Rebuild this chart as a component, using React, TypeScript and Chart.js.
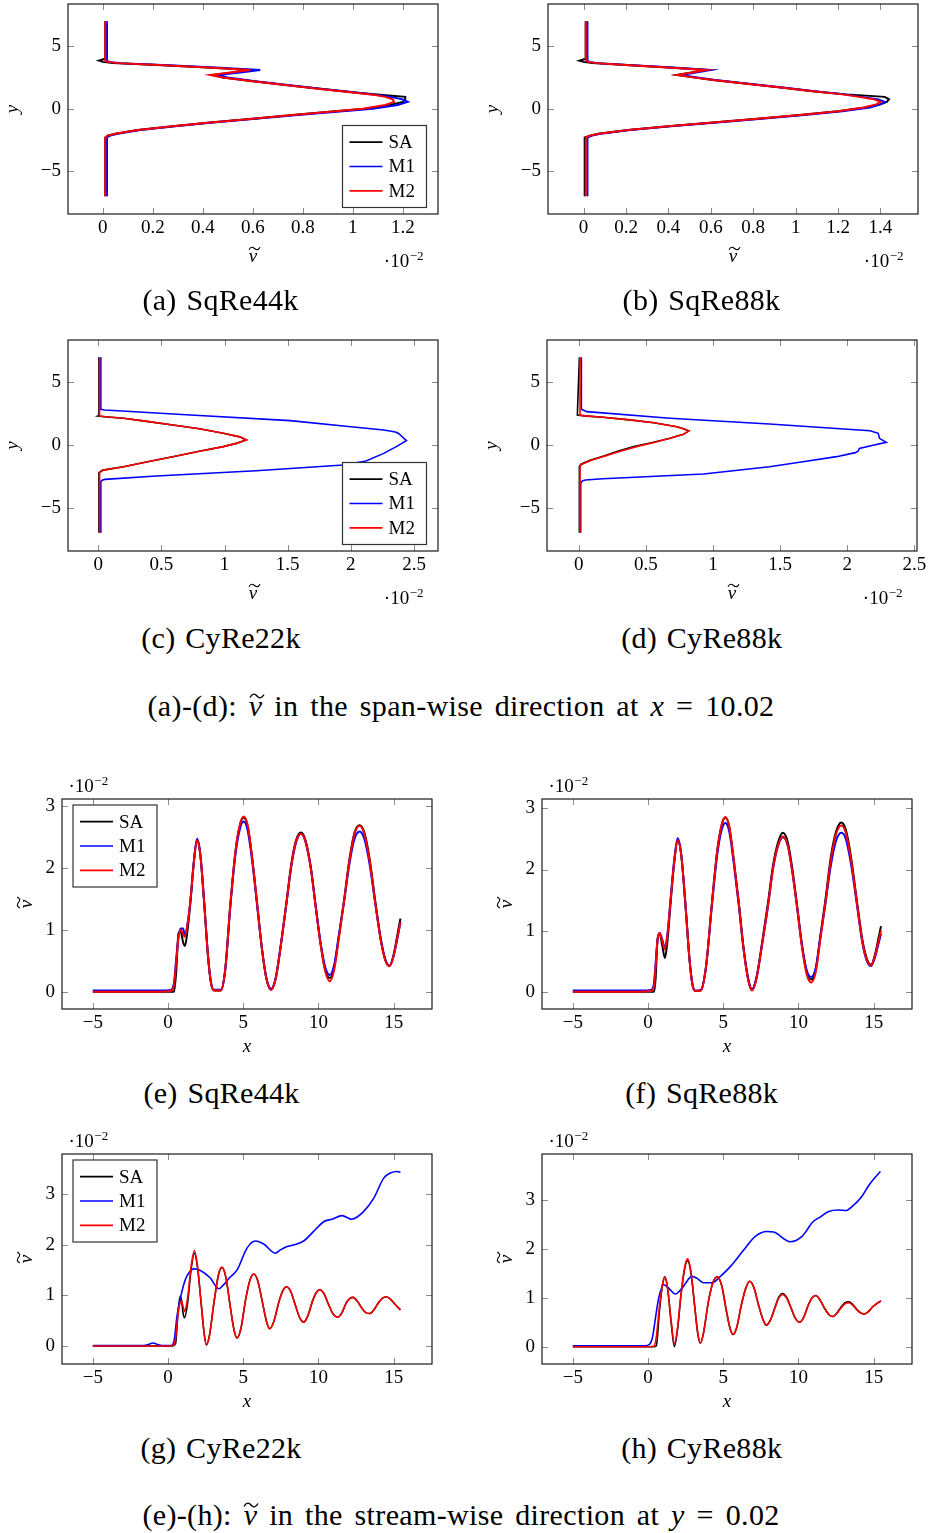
import React, { useEffect, useRef } from "react";
import { Chart, registerables } from "chart.js";

Chart.register(...registerables);

const FONT = '"Liberation Serif", "Times New Roman", serif';
const NU = "\u03BD";
const SERIES_LABELS = ["SA", "M1", "M2"];
const SERIES_COLORS = ["#000000", "#0000ff", "#ff0000"];

// ---------- tick values ----------
const TICKS_SPAN_Y = [-5, 0, 5];
const TICKS_A_X = [0, 0.2, 0.4, 0.6, 0.8, 1, 1.2];
const TICKS_B_X = [0, 0.2, 0.4, 0.6, 0.8, 1, 1.2, 1.4];
const TICKS_CD_X = [0, 0.5, 1, 1.5, 2, 2.5];
const TICKS_STREAM_X = [-5, 0, 5, 10, 15];
const TICKS_STREAM_Y = [0, 1, 2, 3];

// ---------- (a) SqRe44k, span-wise (y position, nu value x1e-2) ----------
const aPos = [-7, -2.3, -2.15, -2.0, -1.7, -1.4, -1.1, -0.8, -0.5, -0.2, 0, 0.3, 0.55, 0.75, 0.95, 1.1, 1.3, 1.6, 1.9, 2.2, 2.5, 2.7, 2.9, 3.1, 3.3, 3.5, 3.65, 3.75, 3.85, 4.0, 7];
const aM2 = [0.01, 0.01, 0.02, 0.05, 0.14, 0.28, 0.43, 0.6, 0.76, 0.93, 1.04, 1.13, 1.165, 1.16, 1.13, 1.09, 1.0, 0.86, 0.73, 0.6, 0.48, 0.43, 0.51, 0.59, 0.42, 0.22, 0.06, 0.02, 0.01, 0.01, 0.01];
const aM1 = [0.017, 0.017, 0.03, 0.06, 0.15, 0.29, 0.44, 0.61, 0.78, 0.96, 1.08, 1.18, 1.22, 1.2, 1.15, 1.1, 1.01, 0.87, 0.74, 0.61, 0.5, 0.46, 0.55, 0.63, 0.45, 0.24, 0.07, 0.025, 0.017, 0.017, 0.017];
const aSA = [0.01, 0.01, 0.02, 0.05, 0.14, 0.28, 0.43, 0.6, 0.76, 0.93, 1.05, 1.15, 1.2, 1.21, 1.21, 1.12, 1.01, 0.87, 0.73, 0.6, 0.48, 0.44, 0.52, 0.59, 0.42, 0.22, 0.04, 0.0, -0.015, 0.01, 0.01];

// ---------- (b) SqRe88k, span-wise ----------
const bPos = [-7, -2.3, -2.15, -2.0, -1.7, -1.4, -1.1, -0.8, -0.5, -0.2, 0.1, 0.35, 0.55, 0.75, 0.95, 1.15, 1.4, 1.7, 2.0, 2.3, 2.55, 2.7, 2.9, 3.1, 3.3, 3.5, 3.65, 3.75, 3.85, 4.0, 7];
const bM2 = [0.01, 0.01, 0.03, 0.07, 0.21, 0.4, 0.61, 0.82, 1.02, 1.2, 1.32, 1.38, 1.4, 1.37, 1.3, 1.22, 1.08, 0.93, 0.77, 0.61, 0.5, 0.44, 0.51, 0.58, 0.4, 0.2, 0.06, 0.02, 0.01, 0.01, 0.01];
const bM1 = [0.018, 0.018, 0.04, 0.08, 0.22, 0.41, 0.63, 0.84, 1.04, 1.22, 1.35, 1.4, 1.42, 1.39, 1.31, 1.23, 1.09, 0.94, 0.78, 0.62, 0.52, 0.46, 0.53, 0.6, 0.42, 0.21, 0.07, 0.025, 0.018, 0.018, 0.018];
const bSA = [0.005, 0.005, 0.03, 0.07, 0.21, 0.4, 0.61, 0.82, 1.02, 1.2, 1.33, 1.4, 1.43, 1.44, 1.42, 1.24, 1.08, 0.93, 0.77, 0.61, 0.5, 0.44, 0.51, 0.58, 0.4, 0.2, 0.04, 0.0, -0.02, 0.01, 0.01];

// ---------- (c) CyRe22k, span-wise ----------
const cPosSM = [-7, -2.2, -2.0, -1.73, -1.3, -0.93, -0.5, -0.13, 0.15, 0.4, 0.65, 0.93, 1.3, 1.6, 1.9, 2.13, 2.25, 2.31, 2.36, 7];
const cM2 = [0.01, 0.01, 0.04, 0.2, 0.41, 0.59, 0.8, 0.99, 1.1, 1.175, 1.12, 0.99, 0.8, 0.59, 0.37, 0.2, 0.06, 0.01, 0.01, 0.01];
const cSA = [0.005, 0.005, 0.035, 0.2, 0.41, 0.59, 0.8, 0.99, 1.1, 1.17, 1.12, 0.99, 0.8, 0.59, 0.37, 0.2, 0.05, -0.005, 0.005, 0.005];
const cPosM1 = [-7, -2.92, -2.8, -2.74, -2.47, -2.05, -1.6, -1.28, -0.67, -0.13, 0.35, 0.72, 0.9, 1.01, 1.1, 1.2, 1.5, 1.94, 2.39, 2.79, 2.85, 7];
const cM1 = [0.02, 0.02, 0.03, 0.05, 0.46, 1.25, 1.94, 2.12, 2.26, 2.36, 2.44, 2.4, 2.38, 2.36, 2.32, 2.26, 1.96, 1.52, 0.73, 0.05, 0.02, 0.02];

// ---------- (d) CyRe88k, span-wise ----------
const dPosSM = [-7, -1.73, -1.55, -1.41, -1.2, -0.93, -0.5, -0.13, 0.2, 0.53, 0.85, 1.12, 1.3, 1.46, 1.78, 2.0, 2.21, 2.32, 2.39, 7];
const dM2 = [0.01, 0.01, 0.02, 0.05, 0.1, 0.18, 0.31, 0.43, 0.56, 0.68, 0.78, 0.82, 0.78, 0.73, 0.56, 0.38, 0.18, 0.05, 0.01, 0.01];
const dSA = [0.005, 0.005, 0.015, 0.04, 0.09, 0.17, 0.29, 0.41, 0.55, 0.68, 0.78, 0.82, 0.78, 0.73, 0.56, 0.38, 0.18, 0.04, -0.01, 0.005];
const dPosM1 = [-7, -3.0, -2.85, -2.79, -2.69, -2.31, -1.73, -1.33, -0.93, -0.61, -0.5, -0.27, 0.0, 0.21, 0.53, 0.93, 1.14, 1.67, 2.13, 2.66, 2.85, 7];
const dM1 = [0.015, 0.015, 0.03, 0.05, 0.18, 0.93, 1.42, 1.67, 1.92, 2.06, 2.08, 2.09, 2.2, 2.29, 2.24, 2.23, 2.17, 1.42, 0.68, 0.06, 0.02, 0.02];

// ---------- (e) SqRe44k, stream-wise (x position, nu value x1e-2) ----------
const eX = [-5, -0.5, 0.2, 0.4, 0.55, 0.7, 0.85, 1.0, 1.12, 1.3, 1.5, 1.7, 1.93, 2.15, 2.4, 2.65, 2.85, 3.05, 3.5, 3.8, 4.15, 4.5, 4.8, 5.03, 5.3, 5.6, 5.92, 6.25, 6.55, 6.85, 7.15, 7.5, 7.87, 8.2, 8.5, 8.84, 9.15, 9.5, 9.8, 10.15, 10.45, 10.75, 11.05, 11.35, 11.7, 12.05, 12.4, 12.74, 13.05, 13.4, 13.78, 14.15, 14.45, 14.73, 15.0, 15.25, 15.45];
const eM2 = [0, 0, 0.01, 0.12, 0.5, 0.88, 1.0, 0.93, 0.89, 1.1, 1.5, 2.05, 2.45, 2.2, 1.45, 0.6, 0.15, 0.02, 0.02, 0.35, 1.43, 2.3, 2.72, 2.83, 2.68, 2.15, 1.43, 0.68, 0.2, 0.03, 0.2, 0.75, 1.43, 2.05, 2.42, 2.55, 2.42, 1.98, 1.4, 0.75, 0.33, 0.17, 0.36, 0.85, 1.45, 2.1, 2.55, 2.68, 2.55, 2.12, 1.43, 0.82, 0.5, 0.41, 0.58, 0.88, 1.12];
const eSA = [0, 0, 0, 0, 0.35, 0.95, 0.97, 0.8, 0.74, 1.0, 1.48, 2.05, 2.45, 2.2, 1.45, 0.6, 0.15, 0.02, 0.02, 0.35, 1.43, 2.3, 2.71, 2.81, 2.67, 2.15, 1.43, 0.68, 0.2, 0.03, 0.2, 0.75, 1.44, 2.07, 2.44, 2.57, 2.44, 2.0, 1.41, 0.76, 0.35, 0.22, 0.4, 0.88, 1.47, 2.12, 2.57, 2.69, 2.57, 2.15, 1.46, 0.84, 0.51, 0.42, 0.6, 0.92, 1.18];
const eM1 = [0.02, 0.02, 0.03, 0.15, 0.55, 0.9, 1.02, 1.02, 0.9, 1.1, 1.5, 2.07, 2.47, 2.22, 1.45, 0.6, 0.16, 0.03, 0.03, 0.35, 1.4, 2.25, 2.65, 2.75, 2.6, 2.1, 1.4, 0.68, 0.21, 0.05, 0.22, 0.76, 1.42, 2.03, 2.4, 2.55, 2.41, 1.98, 1.42, 0.78, 0.4, 0.27, 0.44, 0.9, 1.45, 2.05, 2.47, 2.59, 2.47, 2.06, 1.42, 0.84, 0.52, 0.42, 0.58, 0.86, 1.12];

// ---------- (f) SqRe88k, stream-wise ----------
const fX = [-5, -0.5, 0.2, 0.4, 0.5, 0.63, 0.77, 0.95, 1.12, 1.3, 1.5, 1.75, 1.97, 2.2, 2.48, 2.75, 2.95, 3.14, 3.5, 3.85, 4.25, 4.6, 4.9, 5.14, 5.4, 5.7, 6.03, 6.35, 6.65, 6.91, 7.2, 7.6, 8.0, 8.3, 8.65, 8.97, 9.3, 9.6, 9.9, 10.25, 10.55, 10.84, 11.15, 11.45, 11.79, 12.15, 12.5, 12.85, 13.15, 13.5, 13.89, 14.25, 14.55, 14.83, 15.1, 15.3, 15.49];
const fM2 = [0, 0, 0.01, 0.1, 0.4, 0.85, 0.96, 0.82, 0.69, 0.95, 1.5, 2.15, 2.48, 2.25, 1.45, 0.55, 0.12, 0.01, 0.02, 0.4, 1.45, 2.3, 2.74, 2.86, 2.7, 2.15, 1.45, 0.7, 0.2, 0.02, 0.2, 0.8, 1.45, 2.0, 2.4, 2.54, 2.38, 1.95, 1.4, 0.7, 0.28, 0.15, 0.32, 0.85, 1.45, 2.15, 2.58, 2.72, 2.6, 2.15, 1.45, 0.82, 0.52, 0.43, 0.6, 0.8, 1.0];
const fSA = [0, 0, 0, 0, 0.2, 0.85, 0.95, 0.75, 0.55, 0.85, 1.45, 2.13, 2.47, 2.25, 1.45, 0.55, 0.12, 0.01, 0.02, 0.4, 1.46, 2.31, 2.73, 2.85, 2.7, 2.16, 1.47, 0.72, 0.22, 0.03, 0.22, 0.83, 1.5, 2.05, 2.45, 2.6, 2.44, 2.0, 1.43, 0.74, 0.32, 0.2, 0.36, 0.9, 1.5, 2.2, 2.62, 2.77, 2.65, 2.2, 1.48, 0.85, 0.54, 0.44, 0.62, 0.85, 1.07];
const fM1 = [0.02, 0.02, 0.03, 0.15, 0.45, 0.85, 0.96, 0.85, 0.72, 0.97, 1.52, 2.18, 2.51, 2.27, 1.45, 0.55, 0.13, 0.02, 0.03, 0.4, 1.42, 2.24, 2.65, 2.76, 2.62, 2.1, 1.42, 0.7, 0.22, 0.04, 0.22, 0.8, 1.44, 2.0, 2.39, 2.53, 2.38, 1.95, 1.4, 0.73, 0.35, 0.24, 0.39, 0.88, 1.43, 2.06, 2.47, 2.6, 2.5, 2.08, 1.42, 0.8, 0.5, 0.42, 0.57, 0.76, 0.95];

// ---------- (g) CyRe22k, stream-wise ----------
const gX = [-5, -0.5, 0.3, 0.5, 0.65, 0.8, 0.9, 1.0, 1.1, 1.3, 1.55, 1.75, 1.95, 2.2, 2.4, 2.55, 2.75, 3.05, 3.35, 3.59, 3.85, 4.15, 4.4, 4.59, 4.85, 5.15, 5.45, 5.69, 5.95, 6.25, 6.55, 6.76, 7.05, 7.35, 7.65, 7.87, 8.15, 8.45, 8.75, 9.02, 9.3, 9.6, 9.85, 10.08, 10.35, 10.7, 11.0, 11.28, 11.55, 11.85, 12.1, 12.3, 12.6, 12.9, 13.15, 13.41, 13.7, 14.0, 14.25, 14.51, 14.8, 15.1, 15.45];
const gM2 = [0, 0, 0.01, 0.15, 0.6, 0.85, 0.88, 0.78, 0.68, 0.95, 1.6, 1.88, 1.6, 0.85, 0.25, 0.03, 0.2, 0.85, 1.4, 1.55, 1.35, 0.75, 0.3, 0.16, 0.35, 0.9, 1.3, 1.42, 1.3, 0.9, 0.48, 0.34, 0.5, 0.85, 1.1, 1.17, 1.08, 0.82, 0.56, 0.47, 0.6, 0.88, 1.05, 1.11, 1.04, 0.8, 0.62, 0.57, 0.65, 0.85, 0.94, 0.96, 0.88, 0.74, 0.66, 0.64, 0.72, 0.86, 0.94, 0.97, 0.92, 0.82, 0.71];
const gSA = [0, 0, 0, 0.05, 0.6, 0.98, 0.9, 0.65, 0.56, 0.85, 1.55, 1.83, 1.57, 0.85, 0.25, 0.02, 0.2, 0.85, 1.4, 1.55, 1.35, 0.75, 0.3, 0.16, 0.35, 0.9, 1.3, 1.42, 1.3, 0.9, 0.48, 0.34, 0.5, 0.85, 1.1, 1.17, 1.08, 0.82, 0.56, 0.47, 0.6, 0.88, 1.05, 1.11, 1.04, 0.8, 0.62, 0.57, 0.65, 0.85, 0.94, 0.96, 0.88, 0.74, 0.66, 0.64, 0.72, 0.86, 0.94, 0.97, 0.92, 0.82, 0.71];
const gXM1 = [-5, -1.6, -1.3, -1.0, -0.7, -0.4, 0.2, 0.4, 0.6, 0.82, 1.15, 1.4, 1.7, 2.15, 2.81, 3.37, 3.7, 4.1, 4.59, 5.25, 5.8, 6.36, 7.13, 7.5, 7.91, 8.35, 9.02, 9.68, 10.35, 10.9, 11.57, 12.23, 13.0, 13.67, 14.34, 14.78, 15.23, 15.45];
const gM1 = [0.01, 0.01, 0.03, 0.06, 0.03, 0.01, 0.01, 0.1, 0.6, 0.94, 1.31, 1.45, 1.52, 1.49, 1.34, 1.13, 1.21, 1.35, 1.5, 1.93, 2.07, 2.01, 1.83, 1.9, 1.96, 1.99, 2.07, 2.26, 2.45, 2.5, 2.57, 2.5, 2.65, 2.91, 3.31, 3.41, 3.44, 3.42];

// ---------- (h) CyRe88k, stream-wise ----------
const hX = [-5, -0.5, 0.38, 0.55, 0.75, 0.95, 1.12, 1.3, 1.55, 1.75, 1.95, 2.2, 2.45, 2.63, 2.85, 3.1, 3.3, 3.48, 3.7, 4.0, 4.3, 4.59, 4.9, 5.2, 5.45, 5.65, 5.9, 6.2, 6.5, 6.76, 7.05, 7.35, 7.65, 7.87, 8.15, 8.45, 8.7, 8.94, 9.2, 9.5, 9.8, 10.08, 10.35, 10.65, 10.9, 11.15, 11.45, 11.75, 12.05, 12.3, 12.55, 12.85, 13.1, 13.34, 13.6, 13.9, 14.15, 14.38, 14.65, 14.95, 15.2, 15.49];
const hM2 = [0, 0, 0.01, 0.2, 0.8, 1.25, 1.42, 1.2, 0.5, 0.05, 0.35, 1.1, 1.65, 1.8, 1.55, 0.85, 0.3, 0.07, 0.3, 0.9, 1.3, 1.43, 1.25, 0.75, 0.38, 0.25, 0.4, 0.85, 1.2, 1.34, 1.2, 0.85, 0.55, 0.44, 0.55, 0.8, 1.0, 1.07, 1.0, 0.8, 0.58, 0.5, 0.6, 0.85, 1.0, 1.05, 0.95, 0.78, 0.65, 0.62, 0.68, 0.8, 0.88, 0.9, 0.85, 0.75, 0.69, 0.67, 0.72, 0.82, 0.88, 0.94];
const hSA = [0, 0, 0, 0.02, 0.7, 1.25, 1.43, 1.2, 0.45, 0.0, 0.33, 1.08, 1.62, 1.76, 1.52, 0.83, 0.28, 0.07, 0.3, 0.9, 1.3, 1.43, 1.25, 0.75, 0.38, 0.25, 0.4, 0.85, 1.2, 1.34, 1.2, 0.85, 0.55, 0.44, 0.56, 0.82, 1.02, 1.09, 1.02, 0.8, 0.58, 0.5, 0.6, 0.85, 1.0, 1.05, 0.95, 0.78, 0.65, 0.62, 0.69, 0.82, 0.9, 0.92, 0.87, 0.76, 0.69, 0.67, 0.72, 0.82, 0.88, 0.94];
const hXM1 = [-5, -0.2, 0.1, 0.3, 0.5, 0.71, 1.04, 1.37, 1.82, 2.26, 2.93, 3.26, 3.7, 4.26, 4.81, 5.47, 6.36, 7.13, 7.91, 8.35, 9.46, 10.24, 10.57, 10.9, 11.46, 12.01, 12.67, 13.18, 13.56, 14.12, 14.78, 15.45];
const hM1 = [0.02, 0.02, 0.05, 0.2, 0.6, 1.0, 1.27, 1.2, 1.08, 1.2, 1.44, 1.4, 1.31, 1.31, 1.44, 1.64, 1.98, 2.26, 2.36, 2.35, 2.15, 2.26, 2.39, 2.54, 2.66, 2.77, 2.8, 2.79, 2.87, 3.04, 3.35, 3.59];

// ---------- captions ----------
const CAPTIONS = ["(a) SqRe44k", "(b) SqRe88k", "(c) CyRe22k", "(d) CyRe88k", "(e) SqRe44k", "(f) SqRe88k", "(g) CyRe22k", "(h) CyRe88k"];
const CAPTION_CX = [220.5, 701.5, 221, 701.7, 221.5, 701.7, 221, 701.7];
const CAPTION_CY = [300, 300, 638, 638, 1093, 1093, 1448, 1448];

// ---------- panel layout ----------
const PANELS: any[] = [
  { id: "a", left: 68, top: 4, w: 370, h: 210, xMin: -0.139, xMax: 1.341, yMin: -8.42, yMax: 8.38, xTicks: TICKS_A_X, yTicks: TICKS_SPAN_Y, vertical: true, legend: "se", lw: 2, series: [[aPos, aSA], [aPos, aM1], [aPos, aM2]] },
  { id: "b", left: 548, top: 4, w: 370, h: 210, xMin: -0.168, xMax: 1.577, yMin: -8.42, yMax: 8.38, xTicks: TICKS_B_X, yTicks: TICKS_SPAN_Y, vertical: true, legend: null, lw: 2, series: [[bPos, bSA], [bPos, bM1], [bPos, bM2]] },
  { id: "c", left: 68, top: 340, w: 370, h: 211, xMin: -0.24, xMax: 2.69, yMin: -8.45, yMax: 8.37, xTicks: TICKS_CD_X, yTicks: TICKS_SPAN_Y, vertical: true, legend: "se", lw: 1.6, series: [[cPosSM, cSA], [cPosM1, cM1], [cPosSM, cM2]] },
  { id: "d", left: 547, top: 340, w: 370, h: 211, xMin: -0.236, xMax: 2.519, yMin: -8.45, yMax: 8.37, xTicks: TICKS_CD_X, yTicks: TICKS_SPAN_Y, vertical: true, legend: null, lw: 1.6, series: [[dPosSM, dSA], [dPosM1, dM1], [dPosSM, dM2]] },
  { id: "e", left: 62, top: 799, w: 370, h: 210, xMin: -7.05, xMax: 17.55, yMin: -0.279, yMax: 3.113, xTicks: TICKS_STREAM_X, yTicks: TICKS_STREAM_Y, vertical: false, legend: "nw", lw: 2, series: [[eX, eSA], [eX, eM1], [eX, eM2]] },
  { id: "f", left: 542, top: 799, w: 370, h: 210, xMin: -7.05, xMax: 17.55, yMin: -0.283, yMax: 3.154, xTicks: TICKS_STREAM_X, yTicks: TICKS_STREAM_Y, vertical: false, legend: null, lw: 2, series: [[fX, fSA], [fX, fM1], [fX, fM2]] },
  { id: "g", left: 62, top: 1154, w: 370, h: 210, xMin: -7.05, xMax: 17.55, yMin: -0.354, yMax: 3.785, xTicks: TICKS_STREAM_X, yTicks: TICKS_STREAM_Y, vertical: false, legend: "nw", lw: 1.6, series: [[gX, gSA], [gXM1, gM1], [gX, gM2]] },
  { id: "h", left: 542, top: 1154, w: 370, h: 210, xMin: -7.05, xMax: 17.55, yMin: -0.354, yMax: 3.947, xTicks: TICKS_STREAM_X, yTicks: TICKS_STREAM_Y, vertical: false, legend: null, lw: 1.6, series: [[hX, hSA], [hXM1, hM1], [hX, hM2]] },
];

const L = 75, R = 32, T = 32, B = 64;

const fmtTick = (v: number) => (v < 0 ? "\u2212" + String(Math.abs(v)) : String(v));

function toPoints(pos: number[], val: number[], vertical: boolean) {
  return pos.map((p, i) => (vertical ? { x: val[i], y: p } : { x: p, y: val[i] }));
}

// draws a nu with a wide tilde accent, centred at cx, baseline by (in current transform)
function drawNuTilde(ctx: CanvasRenderingContext2D, cx: number, by: number) {
  ctx.font = `italic 19px ${FONT}`;
  ctx.textAlign = "center";
  ctx.textBaseline = "alphabetic";
  ctx.fillStyle = "#000";
  ctx.fillText(NU, cx, by);
  const tx = cx + 1.5;
  const ty = by - 13.5;
  ctx.strokeStyle = "#000";
  ctx.lineWidth = 1.1;
  ctx.beginPath();
  ctx.moveTo(tx - 5.5, ty + 1.3);
  ctx.bezierCurveTo(tx - 3.6, ty - 2.3, tx - 1.6, ty - 1.3, tx, ty);
  ctx.bezierCurveTo(tx + 1.6, ty + 1.3, tx + 3.6, ty + 2.3, tx + 5.5, ty - 1.3);
  ctx.stroke();
}

function drawItalic(ctx: CanvasRenderingContext2D, text: string, cx: number, by: number) {
  ctx.font = `italic 19px ${FONT}`;
  ctx.textAlign = "center";
  ctx.textBaseline = "alphabetic";
  ctx.fillStyle = "#000";
  ctx.fillText(text, cx, by);
}

function makePgfPlugin(p: any) {
  return {
    id: "pgf_" + p.id,
    afterDatasetsDraw(chart: any) {
      const { ctx, chartArea: ca } = chart;
      const xs = chart.scales.x;
      const ys = chart.scales.y;
      ctx.save();
      // inward ticks on all four sides
      ctx.strokeStyle = "#8a8a8a";
      ctx.lineWidth = 1;
      ctx.beginPath();
      for (const v of p.xTicks) {
        const px = Math.round(xs.getPixelForValue(v)) + 0.5;
        ctx.moveTo(px, ca.bottom);
        ctx.lineTo(px, ca.bottom - 6);
        ctx.moveTo(px, ca.top);
        ctx.lineTo(px, ca.top + 6);
      }
      for (const v of p.yTicks) {
        const py = Math.round(ys.getPixelForValue(v)) + 0.5;
        ctx.moveTo(ca.left, py);
        ctx.lineTo(ca.left + 6, py);
        ctx.moveTo(ca.right, py);
        ctx.lineTo(ca.right - 6, py);
      }
      ctx.stroke();
      // axis box
      ctx.strokeStyle = "#1a1a1a";
      ctx.lineWidth = 1.2;
      ctx.strokeRect(ca.left, ca.top, ca.right - ca.left, ca.bottom - ca.top);
      // legend
      if (p.legend) {
        const bw = 84, bh = 82;
        const bx = p.legend === "se" ? ca.right - 11.5 - bw : ca.left + 11;
        const by = p.legend === "se" ? ca.bottom - 6.5 - bh : ca.top + 6;
        ctx.fillStyle = "#ffffff";
        ctx.fillRect(bx, by, bw, bh);
        ctx.strokeStyle = "#333333";
        ctx.lineWidth = 1.2;
        ctx.strokeRect(bx, by, bw, bh);
        chart.data.datasets.forEach((ds: any, i: number) => {
          const cy = by + 16.6 + i * 24.4;
          ctx.strokeStyle = ds.borderColor;
          ctx.lineWidth = 1.6;
          ctx.beginPath();
          ctx.moveTo(bx + 7, cy);
          ctx.lineTo(bx + 40, cy);
          ctx.stroke();
          ctx.fillStyle = "#000";
          ctx.font = `19px ${FONT}`;
          ctx.textAlign = "left";
          ctx.textBaseline = "middle";
          ctx.fillText(ds.label, bx + 46, cy + 1);
        });
      }
      // axis titles
      const midX = (ca.left + ca.right) / 2;
      const midY = (ca.top + ca.bottom) / 2;
      if (p.vertical) {
        drawNuTilde(ctx, midX, ca.bottom + 48);
        ctx.save();
        ctx.translate(ca.left - 50.5, midY);
        ctx.rotate(-Math.PI / 2);
        drawItalic(ctx, "y", 0, 0);
        ctx.restore();
      } else {
        drawItalic(ctx, "x", midX, ca.bottom + 43);
        ctx.save();
        ctx.translate(ca.left - 30, midY);
        ctx.rotate(-Math.PI / 2);
        drawNuTilde(ctx, 0, 0);
        ctx.restore();
      }
      // exponent label
      const main = "\u00B710";
      const sup = "\u22122";
      ctx.fillStyle = "#000";
      ctx.textBaseline = "alphabetic";
      ctx.textAlign = "left";
      ctx.font = `13px ${FONT}`;
      const ws = ctx.measureText(sup).width;
      ctx.font = `19px ${FONT}`;
      const wm = ctx.measureText(main).width;
      let x0: number, base: number;
      if (p.vertical) {
        x0 = ca.right - 15 - ws - wm;
        base = ca.bottom + 53;
      } else {
        x0 = ca.left + 6.5;
        base = ca.top - 7;
      }
      ctx.fillText(main, x0, base);
      ctx.font = `13px ${FONT}`;
      ctx.fillText(sup, x0 + wm + 0.5, base - 7.5);
      ctx.restore();
    },
  };
}

function Panel({ p }: { p: any }) {
  const ref = useRef<HTMLCanvasElement | null>(null);
  useEffect(() => {
    const canvas = ref.current;
    if (!canvas) return;
    const tickFont = { family: FONT, size: 19 };
    const chart = new Chart(canvas, {
      type: "line",
      data: {
        datasets: p.series.map((s: any, i: number) => ({
          label: SERIES_LABELS[i],
          data: toPoints(s[0], s[1], p.vertical),
          borderColor: SERIES_COLORS[i],
          backgroundColor: SERIES_COLORS[i],
          borderWidth: p.lw,
          pointRadius: 0,
          pointHoverRadius: 0,
          fill: false,
          tension: 0,
          cubicInterpolationMode: p.vertical ? "default" : "monotone",
          order: 3 - i,
        })),
      },
      options: {
        animation: false,
        responsive: false,
        maintainAspectRatio: false,
        devicePixelRatio: 1,
        events: [],
        layout: { padding: { left: 0, top: T, right: R, bottom: 0 } },
        plugins: { legend: { display: false }, tooltip: { enabled: false } },
        scales: {
          x: {
            type: "linear",
            position: "bottom",
            min: p.xMin,
            max: p.xMax,
            grid: { display: false, drawTicks: false },
            border: { display: false },
            afterBuildTicks: (s: any) => {
              s.ticks = p.xTicks.map((v: number) => ({ value: v }));
            },
            afterFit: (s: any) => {
              s.height = B;
            },
            ticks: { font: tickFont, color: "#000", padding: 3, maxRotation: 0, autoSkip: false, callback: (v: any) => fmtTick(Number(v)) },
          },
          y: {
            type: "linear",
            position: "left",
            min: p.yMin,
            max: p.yMax,
            grid: { display: false, drawTicks: false },
            border: { display: false },
            afterBuildTicks: (s: any) => {
              s.ticks = p.yTicks.map((v: number) => ({ value: v }));
            },
            afterFit: (s: any) => {
              s.width = L;
            },
            ticks: { font: tickFont, color: "#000", padding: 7, autoSkip: false, callback: (v: any) => fmtTick(Number(v)) },
          },
        },
      } as any,
      plugins: [makePgfPlugin(p)],
    } as any);
    return () => chart.destroy();
  }, [p]);
  const W = p.w + L + R;
  const H = p.h + T + B;
  return (
    <canvas
      ref={ref}
      width={W}
      height={H}
      style={{ position: "absolute", left: p.left - L, top: p.top - T, width: W, height: H }}
    />
  );
}

const captionStyle = (cx: number, cy: number, wide: boolean): React.CSSProperties => ({
  position: "absolute",
  left: cx - 350,
  width: 700,
  top: cy - 17,
  height: 34,
  lineHeight: "34px",
  textAlign: "center",
  fontFamily: FONT,
  fontSize: 30,
  letterSpacing: wide ? "0.35px" : "0.3px",
  wordSpacing: wide ? "4px" : "2px",
  color: "#000",
  whiteSpace: "nowrap",
});

function NuTilde() {
  return (
    <span style={{ position: "relative", display: "inline-block", fontStyle: "italic" }}>
      {NU}
      <svg
        width={16}
        height={8}
        viewBox="0 0 16 8"
        style={{ position: "absolute", left: "50%", marginLeft: -7, top: 3, overflow: "visible" }}
      >
        <path d="M1 5.5 C3.5 1, 6 1.5, 8 4 C10 6.5, 12.5 7, 15 2.5" fill="none" stroke="#000" strokeWidth={1.4} />
      </svg>
    </span>
  );
}

export default function App() {
  return (
    <div style={{ position: "absolute", left: 0, top: 0, width: 928, height: 1533, background: "#fff", overflow: "hidden" }}>
      {PANELS.map((p) => (
        <Panel key={p.id} p={p} />
      ))}
      {CAPTIONS.map((c, i) => (
        <div key={c + i} style={captionStyle(CAPTION_CX[i], CAPTION_CY[i], false)}>
          {c}
        </div>
      ))}
      <div style={captionStyle(461, 706, true)}>
        (a)-(d): <NuTilde /> in the span-wise direction at <i>x</i> = 10.02
      </div>
      <div style={captionStyle(461, 1515, true)}>
        (e)-(h): <NuTilde /> in the stream-wise direction at <i>y</i> = 0.02
      </div>
    </div>
  );
}
